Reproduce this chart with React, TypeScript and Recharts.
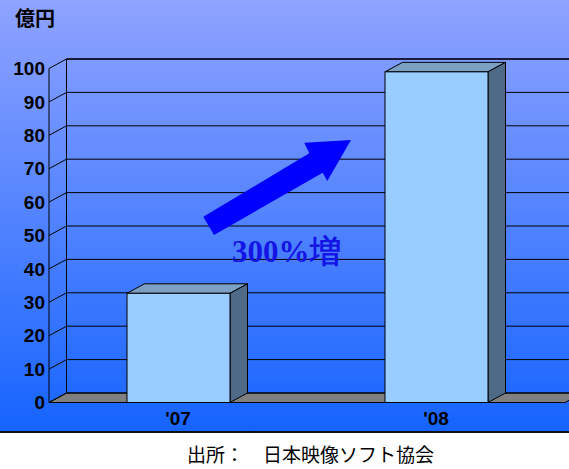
import { ComposedChart, Bar, XAxis, YAxis, CartesianGrid } from 'recharts'

// 日本映像ソフト協会 figures, 億円
const years = ["'07", "'08"]
const sales = [32.7, 99]
const yTicks = [0, 10, 20, 30, 40, 50, 60, 70, 80, 90, 100]

const data = years.map((year, i) => ({ year, value: sales[i] }))

// depth offset of the pseudo-3D box
const DX = 17.5
const DY = 9.5

function WallLine(props: any) {
  const { x1, y1, x2, x, y, width, height } = props
  const isTop = Math.abs(y1 - y) < 1
  const isBottom = Math.abs(y1 - (y + height)) < 1
  return (
    <g>
      {isBottom && (
        <polygon
          points={`${x},${y1} ${x + width},${y1} ${x + width + DX},${y1 - DY} ${x + DX},${y1 - DY}`}
          fill="#808080"
          stroke="#000"
        />
      )}
      {isTop && (
        <line x1={x + DX} y1={y - DY} x2={x + DX} y2={y + height - DY} stroke="#000" />
      )}
      <line x1={x1} y1={y1} x2={x1 + DX} y2={y1 - DY} stroke="#000" />
      <line
        x1={x1 + DX}
        y1={y1 - DY}
        x2={x2 + DX}
        y2={y1 - DY}
        stroke={isTop ? '#1a1a3a' : '#000'}
        strokeWidth={isTop ? 2 : 1}
      />
    </g>
  )
}

function Bar3D(props: any) {
  const { x, y, width, height } = props
  return (
    <g>
      <polygon
        points={`${x},${y} ${x + DX},${y - DY} ${x + width + DX},${y - DY} ${x + width},${y}`}
        fill="#7BA0C4"
        stroke="#000"
      />
      <polygon
        points={`${x + width},${y} ${x + width + DX},${y - DY} ${x + width + DX},${y + height - DY} ${x + width},${y + height}`}
        fill="#4E6A86"
        stroke="#000"
      />
      <rect x={x} y={y} width={width} height={height} fill="#99CCFF" stroke="#000" />
    </g>
  )
}

const tickStyle = { fill: '#000', fontSize: 19, fontWeight: 'bold', fontFamily: '"Liberation Sans", Arial, sans-serif' }

export default function App() {
  return (
    <div
      style={{
        position: 'absolute',
        top: 0,
        left: 0,
        width: 569,
        height: 469,
        background: 'linear-gradient(to bottom, #8FA3FF 0px, #1664FF 431px, #111 431px, #111 433px, #fff 433px)',
      }}
    >
      <ComposedChart width={569} height={469} data={data} margin={{ top: 68.5, right: 4, left: 9, bottom: 36.5 }}>
        <CartesianGrid horizontal={WallLine} vertical={false} />
        <XAxis
          dataKey="year"
          height={30}
          axisLine={false}
          tickLine={false}
          tickSize={0}
          tickMargin={9}
          tick={tickStyle}
        />
        <YAxis
          width={40}
          domain={[0, 100]}
          ticks={yTicks}
          axisLine={{ stroke: '#000' }}
          tickLine={false}
          tickSize={0}
          tickMargin={4}
          tick={tickStyle}
        />
        <Bar dataKey="value" barSize={103} shape={Bar3D} isAnimationActive={false} />
        <text x={15} y={26} fontSize={20} fontWeight="bold" fontFamily='"Noto Sans CJK JP", sans-serif' fill="#000">
          億円
        </text>
        <polygon
          points="203.3,216.7 309.3,153.3 304.3,142.7 351,140 327.3,181 322.7,172.7 214,235"
          fill="#0000FF"
        />
        <text x={232} y={262} fontSize={31} fontWeight="bold" fontFamily='"Liberation Serif", "Times New Roman", serif' fill="#1414E6">
          300%増
        </text>
        <text x={187} y={462} fontSize={19} fontFamily='"Noto Sans CJK JP", sans-serif' fill="#000">
          出所：　日本映像ソフト協会
        </text>
      </ComposedChart>
    </div>
  )
}
